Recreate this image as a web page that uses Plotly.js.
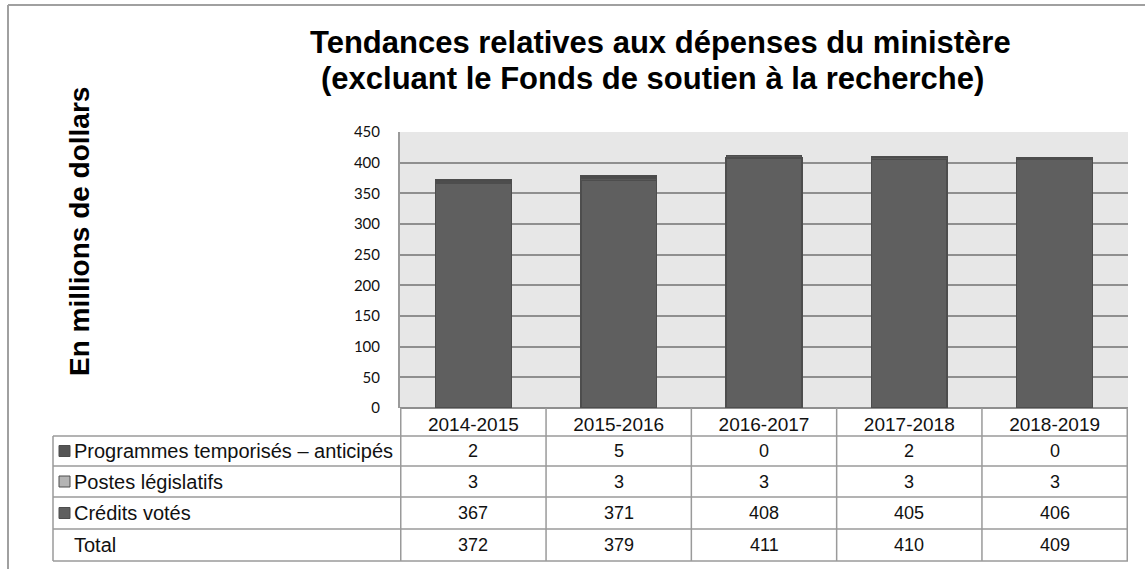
<!DOCTYPE html>
<html>
<head>
<meta charset="utf-8">
<script src="https://cdn.plot.ly/plotly-3.0.1.min.js"></script>
<style>
  html, body { margin: 0; padding: 0; background: #ffffff; }
  #chart { width: 1145px; height: 569px; }
</style>
</head>
<body>
<div id="chart"></div>
<script>
// ---- Data ----
const categories = ['2014-2015', '2015-2016', '2016-2017', '2017-2018', '2018-2019'];
const programmesTemporises = [2, 5, 0, 2, 0];
const postesLegislatifs = [3, 3, 3, 3, 3];
const creditsVotes = [367, 371, 408, 405, 406];
const totals = [372, 379, 411, 410, 409];
const seriesNames = ['Programmes temporisés – anticipés', 'Postes législatifs', 'Crédits votés', 'Total'];
const titleLines = ['Tendances relatives aux dépenses du ministère', '(excluant le Fonds de soutien à la recherche)'];
const yAxisTitle = 'En millions de dollars';
const yTickValues = [0, 50, 100, 150, 200, 250, 300, 350, 400, 450];

// ---- Layout geometry (pixels) ----
const FIG_W = 1145, FIG_H = 569;
const L = 400, T = 132, W = 728, H = 276;
const R = FIG_W - L - W, B = FIG_H - T - H;
const px = x => (x - L) / W;
const py = y => (T + H - y) / H;

const FONT = 'Liberation Sans, Arial, sans-serif';
const TICKFONT = 'Lato, Open Sans, sans-serif';
const LINE = '#9a9a9a';
const BAR_LINE = '#4d4d4d';

// bar fill colours and legend glyph colours
const barColors = { programmes: '#4b4b4b', postes: '#585858', credits: '#5f5f5f' };
const glyphColors = { programmes: '#555555', postes: '#b4b4b4', credits: '#5f5f5f' };

// ---- Traces (stack: credits bottom, postes, programmes top) ----
const traces = [
  { type: 'bar', name: seriesNames[2], x: categories, y: creditsVotes,
    marker: { color: barColors.credits, line: { color: BAR_LINE, width: 1.5 } } },
  { type: 'bar', name: seriesNames[1], x: categories, y: postesLegislatifs,
    marker: { color: barColors.postes, line: { color: BAR_LINE, width: 1 } } },
  { type: 'bar', name: seriesNames[0], x: categories, y: programmesTemporises,
    marker: { color: barColors.programmes, line: { color: BAR_LINE, width: 1 } } }
];

// ---- Data table (shapes + annotations) ----
const tableTop = 408;
const rowLines = [436, 466, 497, 529, 561];
const tableLeft = 53;
const shapes = [];
const annotations = [];

// Outer chart frame (left and top edges visible)
shapes.push({ type: 'line', xref: 'paper', yref: 'paper', x0: px(8), x1: px(FIG_W + 5), y0: py(5), y1: py(5),
  line: { color: '#a0a0a0', width: 2 } });
shapes.push({ type: 'line', xref: 'paper', yref: 'paper', x0: px(8), x1: px(8), y0: py(5), y1: py(FIG_H + 5),
  line: { color: '#a0a0a0', width: 2 } });

// Horizontal table lines
rowLines.forEach(y => {
  shapes.push({ type: 'line', xref: 'paper', yref: 'paper', x0: px(tableLeft), x1: 1, y0: py(y), y1: py(y),
    line: { color: LINE, width: 1.5 } });
});
// Vertical table lines at category boundaries
for (let i = 0; i <= categories.length; i++) {
  shapes.push({ type: 'line', xref: 'x', yref: 'paper', x0: i - 0.5, x1: i - 0.5, y0: py(tableTop), y1: py(rowLines[rowLines.length - 1]),
    line: { color: LINE, width: 1.5 } });
}
// Left edge of label column
shapes.push({ type: 'line', xref: 'paper', yref: 'paper', x0: px(tableLeft), x1: px(tableLeft), y0: py(rowLines[0]), y1: py(rowLines[rowLines.length - 1]),
  line: { color: LINE, width: 1.5 } });

// Row data
const rows = [
  { name: seriesNames[0], values: programmesTemporises, color: glyphColors.programmes },
  { name: seriesNames[1], values: postesLegislatifs, color: glyphColors.postes },
  { name: seriesNames[2], values: creditsVotes, color: glyphColors.credits },
  { name: seriesNames[3], values: totals, color: null }
];
rows.forEach((row, r) => {
  const yc = (rowLines[r] + rowLines[r + 1]) / 2;
  if (row.color) {
    shapes.push({ type: 'rect', xref: 'paper', yref: 'paper',
      x0: px(59), x1: px(70), y0: py(yc - 5.5), y1: py(yc + 5.5),
      fillcolor: row.color, line: { color: BAR_LINE, width: 1 } });
  }
  annotations.push({ xref: 'paper', yref: 'paper', x: px(72), y: py(yc), xanchor: 'left', yanchor: 'middle',
    text: row.name, showarrow: false, font: { family: FONT, size: 20, color: '#111' } });
  row.values.forEach((v, i) => {
    annotations.push({ xref: 'x', yref: 'paper', x: categories[i], y: py(yc), xanchor: 'center', yanchor: 'middle',
      text: String(v), showarrow: false, font: { family: FONT, size: 18, color: '#111' } });
  });
});

// Chart title (two lines)
annotations.push({ xref: 'paper', yref: 'paper', x: px(660), y: py(43), xanchor: 'center', yanchor: 'middle',
  text: '<b>' + titleLines[0] + '</b>', showarrow: false,
  font: { family: FONT, size: 31, color: '#000' } });
annotations.push({ xref: 'paper', yref: 'paper', x: px(652), y: py(78), xanchor: 'center', yanchor: 'middle',
  text: '<b>' + titleLines[1] + '</b>', showarrow: false,
  font: { family: FONT, size: 31, color: '#000' } });

// Y-axis title (vertical)
annotations.push({ xref: 'paper', yref: 'paper', x: px(79), y: py(232), xanchor: 'center', yanchor: 'middle',
  textangle: -90, text: '<b>' + yAxisTitle + '</b>', showarrow: false,
  font: { family: FONT, size: 28, color: '#000' } });

const layout = {
  width: FIG_W, height: FIG_H,
  margin: { l: L, r: R, t: T, b: B, pad: 0 },
  paper_bgcolor: '#ffffff',
  plot_bgcolor: '#e7e7e7',
  barmode: 'stack',
  bargap: 0.478,
  showlegend: false,
  xaxis: {
    type: 'category',
    categoryorder: 'array', categoryarray: categories,
    showgrid: false, showline: false, zeroline: false,
    ticks: '', ticklabelstandoff: 3,
    tickfont: { family: FONT, size: 19, color: '#111' },
    fixedrange: true
  },
  yaxis: {
    range: [0, 450],
    tickvals: yTickValues,
    ticktext: yTickValues.map(String),
    showgrid: true, gridcolor: '#8f8f8f', gridwidth: 2,
    zeroline: true, zerolinecolor: '#8f8f8f', zerolinewidth: 2,
    showline: true, linecolor: LINE, linewidth: 2,
    ticks: '', ticklabelstandoff: 15,
    tickfont: { family: TICKFONT, size: 15, color: '#111' },
    fixedrange: true
  },
  shapes: shapes,
  annotations: annotations
};

Plotly.newPlot('chart', traces, layout, { displayModeBar: false, staticPlot: true });
</script>
</body>
</html>
